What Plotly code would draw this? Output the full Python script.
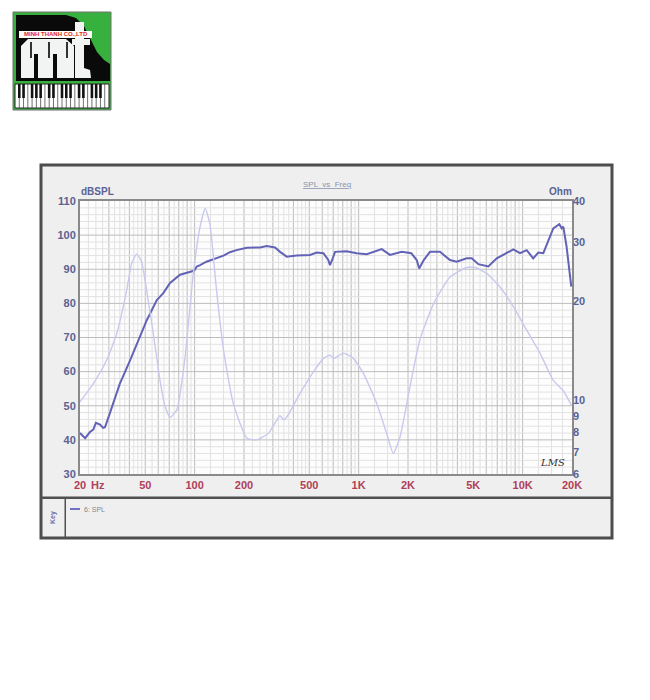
import plotly.graph_objects as go

# ---------------- data ----------------
spl_freq = [20, 21.5, 23, 24.1, 25, 26.5, 27.7, 28.4, 30.5, 35, 40.4, 46.4, 51, 58.8, 64.4,
            70.8, 81.5, 97.7, 100, 103, 108, 118, 130, 150, 164, 180, 208, 251, 275, 309,
            332, 364, 419, 505, 555, 610, 653, 669, 695, 718, 845, 973, 1120, 1228, 1384,
            1552, 1830, 2095, 2260, 2340, 2495, 2723, 3134, 3606, 3963, 4560, 4890, 5370,
            6180, 6950, 8000, 8770, 9640, 10590, 11600, 12470, 13370, 14350, 15380, 16740,
            17300, 17700, 18540, 19800]
spl_db = [42, 40.5, 42.3, 43, 45, 44.5, 43.5, 43.7, 48, 56.5, 63.3, 70.2, 75, 81, 83,
          86, 88.4, 89.5, 89.8, 90.8, 91.2, 92.2, 92.9, 94, 95, 95.6, 96.3, 96.4, 96.8, 96.4,
          95.1, 93.7, 94, 94.2, 94.9, 94.7, 92.7, 91.2, 93.2, 95.1, 95.3, 94.7, 94.4, 95.1, 95.9,
          94.2, 95.1, 94.7, 92.7, 90.2, 92.7, 95.1, 95.1, 92.7, 92.2, 93.2, 93.2, 91.5,
          90.8, 93.2, 94.7, 95.8, 94.7, 95.6, 93.2, 94.9, 94.7, 98.6, 102, 103.2,
          102, 102.5, 96.6, 84.9]

imp_freq = [20, 24, 29, 33.5, 38.5, 41.3, 44.3, 47.5, 51, 56, 61.5, 66, 70.8, 77.8, 87.4,
            98, 108, 116, 124, 136, 150, 172, 208, 239, 281, 316, 332, 348, 364, 439, 530,
            610, 669, 708, 807, 928, 1067, 1290, 1483, 1627, 1788, 2056, 2366, 2852, 3606,
            4560, 5130, 6040, 7280, 8770, 10590, 12760, 15380, 17700, 19800]
imp_ohm = [9.9, 11.2, 13.2, 15.9, 21.5, 25.9, 27.7, 26.2, 21.5, 15.9, 11.5, 9.6, 8.9, 9.35, 13.5,
           24, 33.5, 38, 34, 21.5, 14.2, 9.8, 7.7, 7.6, 7.95, 8.7, 9.0, 8.75, 8.9, 10.5, 12.2,
           13.4, 13.7, 13.4, 13.9, 13.4, 12.1, 9.8, 7.95, 6.92, 7.76, 11, 15.3, 19.5, 23.6,
           25.2, 25.2, 24.2, 22, 19.2, 16.3, 13.9, 11.5, 10.7, 9.7]

x_tick_vals = [20, 50, 100, 200, 500, 1000, 2000, 5000, 10000, 20000]
x_tick_text = ["20", "50", "100", "200", "500", "1K", "2K", "5K", "10K", "20K"]
db_tick_vals = [30, 40, 50, 60, 70, 80, 90, 100, 110]
ohm_tick_vals = [6, 7, 8, 9, 10, 20, 30, 40]
ohm_tick_text = ["6", "7", "8", "9", "10", "20", "30", "40"]

# ---------------- geometry helpers (screen pixel -> paper) ----------------
OFF = 8                      # page body margin
W, H = 650 - OFF, 700 - OFF  # figure size
L, R, T, B = 80, 572, 201, 474   # plot area in screen pixels


def px(x):
    return (x - L) / (R - L)


def py(y):
    return (B - y) / (B - T)


def rect(x0, y0, x1, y1, fill, line=None, lw=0):
    return dict(type="rect", xref="paper", yref="paper", layer="below",
                x0=px(x0), x1=px(x1), y0=py(y1), y1=py(y0),
                fillcolor=fill, line=dict(color=line or fill, width=lw))


def poly(points, fill, line=None, lw=0):
    p = "M " + " L ".join(f"{px(a):.5f},{py(b):.5f}" for a, b in points) + " Z"
    return dict(type="path", xref="paper", yref="paper", layer="below", path=p,
                fillcolor=fill, line=dict(color=line or fill, width=lw))


shapes = []
# outer frame
shapes.append(rect(41, 165, 612, 538, "#efefef", "#4d4d4d", 3))
# plot area
shapes.append(rect(80, 201, 572, 474, "#fdfdfd"))
# legend separator and column
shapes.append(rect(41, 496.5, 612, 499, "#505050"))
shapes.append(rect(64.5, 499, 66, 537, "#505050"))

# grid lines (drawn from data values)
grid_light = "#e2e2e2"
grid_mid = "#bcbcbc"
for d in [10, 100, 1000, 10000]:
    for k in range(1, 10):
        f = k * d
        if 20 < f < 20000:
            shapes.append(dict(type="line", xref="x", yref="paper", layer="below",
                               x0=f, x1=f, y0=0, y1=1, line=dict(color=grid_mid, width=1)))
        subs = [0.25, 0.5, 0.75] if k < 5 else [0.5]
        for s in subs:
            f2 = (k + s) * d
            if 20 < f2 < 20000:
                shapes.append(dict(type="line", xref="x", yref="paper", layer="below",
                                   x0=f2, x1=f2, y0=0, y1=1,
                                   line=dict(color=grid_light, width=1)))
for v in range(32, 110, 2):
    c = grid_mid if v % 10 == 0 else grid_light
    shapes.append(dict(type="line", xref="paper", yref="y", layer="below",
                       x0=0, x1=1, y0=v, y1=v, line=dict(color=c, width=1)))

# ---------------- logo ----------------
shapes.append(rect(13, 12, 111, 110, "#38b03e", "#707070", 1))
shapes.append(poly([(16, 15), (66, 15), (76, 18), (84, 26), (90, 38), (97, 52), (104, 60),
                    (110, 64), (110, 81), (16, 81)], "#0a0a0a"))
# "m" made of piano keys
shapes.append(poly([(21, 78), (21, 46), (28, 39), (66, 39), (74, 46), (74, 78)], "#f2f4f4"))
shapes.append(rect(34, 54, 38, 78, "#0a0a0a"))
shapes.append(rect(53, 54, 57, 78, "#0a0a0a"))
shapes.append(rect(30, 42, 32, 58, "#333333"))
shapes.append(rect(48, 42, 50, 58, "#333333"))
shapes.append(rect(66, 42, 68, 58, "#333333"))
# "t"
shapes.append(rect(75, 22, 84, 78, "#f2f4f4"))
shapes.append(rect(72, 39, 90, 45, "#f2f4f4"))
shapes.append(poly([(84, 68), (90, 70), (91, 78), (84, 78)], "#f2f4f4"))
# red name strip
shapes.append(rect(19, 31, 92, 38, "#ffffff"))
# keyboard
shapes.append(rect(15, 84, 109, 108, "#ffffff", "#222222", 1))
n_white = 22
kw = (109 - 15) / n_white
for i in range(1, n_white):
    x = 15 + i * kw
    shapes.append(dict(type="line", xref="paper", yref="paper", layer="below",
                       x0=px(x), x1=px(x), y0=py(108), y1=py(84),
                       line=dict(color="#333333", width=0.7)))
for i in range(n_white - 1):
    if i % 7 in (0, 1, 3, 4, 5):
        x = 15 + (i + 1) * kw
        shapes.append(rect(x - 1.3, 84, x + 1.3, 98, "#111111"))

# ---------------- traces ----------------
fig = go.Figure()
fig.add_trace(go.Scatter(x=imp_freq, y=imp_ohm, yaxis="y2", mode="lines",
                         line=dict(color="#c9c9ef", width=1.4, shape="spline", smoothing=0.5),
                         showlegend=False, hoverinfo="skip"))
fig.add_trace(go.Scatter(x=spl_freq, y=spl_db, mode="lines",
                         line=dict(color="#6262b6", width=2),
                         showlegend=False, hoverinfo="skip"))

axis_blue = "#5b6294"
tick_red = "#b0405a"
font_fam = "Liberation Sans, Arial, sans-serif"


def ann(text, x, y, size, color, xanchor="center", family=font_fam, **kw):
    return dict(text=text, x=px(x), y=py(y), xref="paper", yref="paper",
                xanchor=xanchor, yanchor="middle", showarrow=False,
                font=dict(family=family, size=size, color=color), **kw)


annotations = [
    ann("<u>SPL  vs  Freq</u>", 327, 184, 8, "#8a92ad"),
    ann("<b>dBSPL</b>", 79, 192, 10, axis_blue, xanchor="left"),
    ann("<b>Ohm</b>", 574, 192, 10, axis_blue, xanchor="right"),
    ann("<b>Hz</b>", 98, 485, 11, tick_red),
    ann("<i>LMS</i>", 552, 462, 10, "#333333", family="DejaVu Serif, serif"),
    ann("<b>Key</b>", 53, 518, 7, "#6870a8", textangle=-90),
    ann("6: SPL", 82, 509, 7, "#888888", xanchor="left"),
    ann("<b>MINH THANH CO.,LTD</b>", 55.5, 34.5, 6, "#e0261f"),
]
shapes.append(dict(type="line", xref="paper", yref="paper", layer="above",
                   x0=px(70), x1=px(80), y0=py(509), y1=py(509),
                   line=dict(color="#7070c4", width=2)))

fig.update_layout(
    width=W, height=H, autosize=False,
    margin=dict(l=L - OFF, r=W - (R - OFF), t=T - OFF, b=H - (B - OFF), pad=0),
    paper_bgcolor="#ffffff", plot_bgcolor="rgba(0,0,0,0)",
    shapes=shapes, annotations=annotations, showlegend=False,
    xaxis=dict(type="log", range=[1.30103, 4.30103], tickvals=x_tick_vals, ticktext=x_tick_text,
               showgrid=False, zeroline=False, showline=True, mirror=True,
               linecolor="#8a8a8a", linewidth=2, ticks="",
               tickfont=dict(family=font_fam, size=11, color=tick_red, weight="bold")),
    yaxis=dict(range=[30, 110], tickvals=db_tick_vals, showgrid=False, zeroline=False,
               showline=True, mirror=True, linecolor="#8a8a8a", linewidth=2, ticks="",
               tickfont=dict(family=font_fam, size=11, color=axis_blue, weight="bold")),
    yaxis2=dict(type="log", range=[0.778151, 1.60206], overlaying="y", side="right",
                tickvals=ohm_tick_vals, ticktext=ohm_tick_text, showgrid=False,
                zeroline=False, showline=False, ticks="",
                tickfont=dict(family=font_fam, size=11, color=axis_blue, weight="bold")),
)

fig.write_html("out.html")
